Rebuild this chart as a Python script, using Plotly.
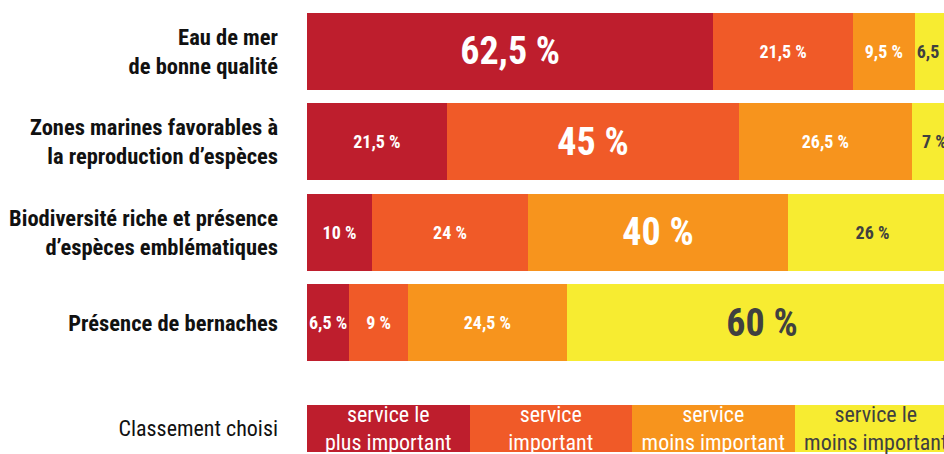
import plotly.graph_objects as go

categories = [
    "Eau de mer<br>de bonne qualité",
    "Zones marines favorables à<br>la reproduction d’espèces",
    "Biodiversité riche et présence<br>d’espèces emblématiques",
    "Présence de bernaches",
]
ranks = ["service le plus important", "service important",
         "service moins important", "service le moins important"]
# values per rank, in the order of categories
v_most = [62.5, 21.5, 10, 6.5]
v_important = [21.5, 45, 24, 9]
v_less = [9.5, 26.5, 40, 24.5]
v_least = [6.5, 7, 26, 60]
series = [v_most, v_important, v_less, v_least]

legend_title = "Classement choisi"
legend_labels = ["service le<br>plus important", "service<br>important",
                 "service<br>moins important", "service le<br>moins important"]
legend_values = [25, 25, 25, 25]

colors = ["#BE1E2D", "#F05A28", "#F7941D", "#F7EC31"]
text_colors = ["#FFFFFF", "#FFFFFF", "#FFFFFF", "#404040"]
FONT = "Liberation Sans Narrow, Roboto Condensed, Lato, sans-serif"

def fmt(v):
    s = f"{v:g}".replace(".", ",")
    return s + " %"

row_max = [max(s[i] for s in series) for i in range(len(categories))]

fig = go.Figure()
for k, vals in enumerate(series):
    sizes = [38 if vals[i] == row_max[i] else 18 for i in range(len(vals))]
    fig.add_trace(go.Bar(
        y=categories, x=vals, orientation="h", name=ranks[k],
        marker=dict(color=colors[k], line=dict(width=0)),
        text=[fmt(v) for v in vals], textposition="inside",
        insidetextanchor="middle", textangle=0, constraintext="none",
        textfont=dict(family=FONT, size=sizes, color=text_colors[k]),
        texttemplate="<b>%{text}</b>",
        xaxis="x", yaxis="y", showlegend=False, hoverinfo="skip",
    ))

for k in range(4):
    fig.add_trace(go.Bar(
        y=[legend_title], x=[legend_values[k]], orientation="h",
        marker=dict(color=colors[k], line=dict(width=0)),
        text=[legend_labels[k]], textposition="inside",
        insidetextanchor="middle", textangle=0, constraintext="none",
        textfont=dict(family=FONT, size=22, color=text_colors[k]),
        xaxis="x2", yaxis="y2", showlegend=False, hoverinfo="skip",
    ))

H = 454
fig.update_layout(
    width=944, height=H, barmode="stack", bargap=0.154,
    margin=dict(l=307, r=0, t=0, b=0),
    paper_bgcolor="white", plot_bgcolor="white",
    font=dict(family=FONT, color="#111111"),
    xaxis=dict(domain=[0, 1], range=[0, 98], visible=False, fixedrange=True),
    yaxis=dict(domain=[(H - 368) / H, (H - 6) / H], autorange="reversed",
               showgrid=False, zeroline=False, showline=False, ticks="",
               ticklabelstandoff=28,
               tickfont=dict(family=FONT, size=22.5, color="#111111", weight="bold"),
               anchor="x"),
    xaxis2=dict(domain=[0, 1], range=[0, 98], visible=False, anchor="y2"),
    yaxis2=dict(domain=[0, (H - 401) / H], range=[-0.5 + (55 - 53) / 55, 0.5],
                showgrid=False, zeroline=False, showline=False, ticks="",
                ticklabelstandoff=28,
                tickfont=dict(family=FONT, size=22, color="#111111"),
                anchor="x2"),
)
fig.write_html("out.html")
